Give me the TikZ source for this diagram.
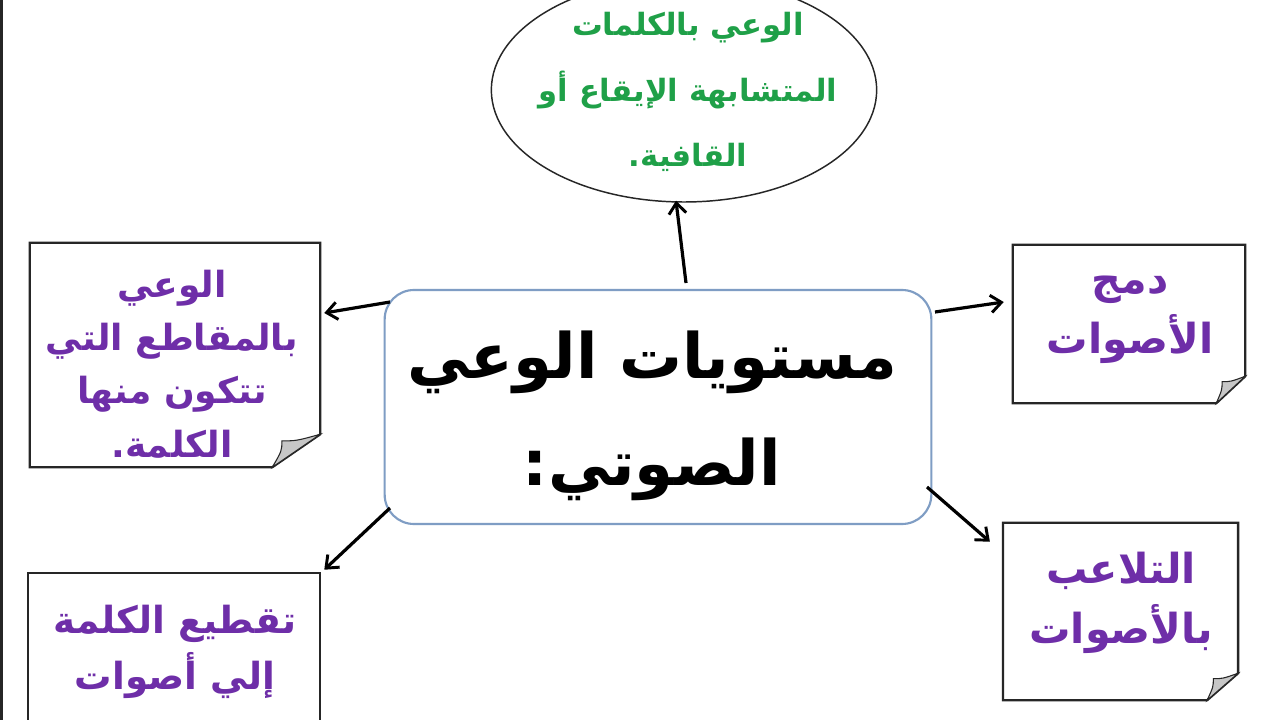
\documentclass[tikz,border=0pt]{standalone}
\usepackage{fontspec}
\usetikzlibrary{shapes.geometric,calc,arrows.meta}
\newfontfamily\arabicfont[Script=Arabic]{DejaVu Sans}
\TeXXeTstate=1
\definecolor{notepurple}{HTML}{6E2EA8}
\definecolor{ovalgreen}{HTML}{1FA048}
\definecolor{boxblue}{HTML}{7F9DC4}
\tikzset{
  notetext/.style={text=notepurple, font=\arabicfont\bfseries\fontsize{27}{40}\selectfont, align=center},
  notetextwide/.style={text=notepurple, font=\arabicfont\bfseries\fontsize{28}{42}\selectfont, align=center},
  notetextbig/.style={text=notepurple, font=\arabicfont\bfseries\fontsize{31}{45}\selectfont, align=center},
  notebox/.style={inner sep=0pt},
  noteline/.style={draw=black!85, line width=1.7pt, fill=white},
  flap/.style={draw=black!85, line width=0.8pt, fill=black!22},
  arrowline/.style={draw=black, line width=2.4pt, -{Straight Barb[length=8pt,width=13pt,line width=2.2pt]}},
  centralbox/.style={draw=boxblue, line width=1.6pt, rounded corners=22pt, fill=white},
  oval/.style={ellipse, draw=black!85, line width=1.1pt, fill=white, inner sep=0pt},
  ovaltext/.style={text=ovalgreen, font=\arabicfont\bfseries\fontsize{23}{49}\selectfont, align=center},
  maintext/.style={text=black, font=\arabicfont\bfseries\fontsize{47}{80}\selectfont, align=center}
}
\newcommand\drawnote[3]{%
  \draw[noteline] (#1.north west) -- (#1.north east) -- ($(#1.south east)+(0,-#3)$)
     -- ($(#1.south east)+(-#2,0)$) -- (#1.south west) -- cycle;
  \draw[flap] ($(#1.south east)+(0,-#3)$) -- ($(#1.south east)+(-#2,0)$)
     .. controls ($(#1.south east)+(-0.8*#2,-0.5*#3)$) .. ($(#1.south east)+(-0.8*#2,-0.8*#3)$)
     .. controls ($(#1.south east)+(-0.5*#2,-0.8*#3)$) .. ($(#1.south east)+(0,-#3)$) -- cycle;
}
\begin{document}
\begin{tikzpicture}[x=0.75pt,y=-0.75pt]
\useasboundingbox (0,0) rectangle (1280,720);
\clip (0,0) rectangle (1280,720);
\fill[white] (0,0) rectangle (1280,720);
\fill[black!85] (0,0) rectangle (3,720);

% top oval
\node[oval, minimum width=289pt, minimum height=168pt] (oval) at (684,90) {};
\node[ovaltext] (ovaltxt) at (688,92)
  {\beginR الوعي بالكلمات\endR\\ \beginR المتشابهة الإيقاع أو\endR\\ \beginR القافية.\endR};

% central box
\node[centralbox, minimum width=410pt, minimum height=175.5pt] (c) at (658,407) {};
\node[maintext] (ctxt) at (652,416)
  {\beginR مستويات الوعي\endR\\ \beginR الصوتي:\endR};

% note boxes (geometry)
\node[notebox, minimum width=217.5pt, minimum height=168pt] (lt) at (175,355) {};
\node[notebox, minimum width=219pt, minimum height=126pt] (lb) at (174,657) {};
\node[notebox, minimum width=174pt, minimum height=118.5pt] (rt) at (1129,324) {};
\node[notebox, minimum width=176pt, minimum height=132.75pt] (rb) at (1120.5,611.5) {};

\drawnote{lt}{48}{33}
\draw[noteline] (lb.north west) rectangle (lb.south east);
\drawnote{rt}{29}{27}
\drawnote{rb}{31}{27}

% note texts
\node[notetext] (lttxt) at (172,364)
  {\beginR الوعي\endR\\ \beginR بالمقاطع التي\endR\\ \beginR تتكون منها\endR\\ \beginR الكلمة.\endR};
\node[notetextwide] (lbtxt) at (175,652)
  {\beginR تقطيع الكلمة\endR\\ \beginR إلي أصوات\endR};
\node[notetextbig] (rttxt) at (1130,320)
  {\beginR دمج\endR\\ \beginR الأصوات\endR};
\node[notetextbig] (rbtxt) at (1121,603)
  {\beginR التلاعب\endR\\ \beginR بالأصوات\endR};

% connectors
\coordinate (s1) at (686,283);
\coordinate (s2) at (390,302);
\coordinate (s3) at (390,508);
\coordinate (s4) at (935,312);
\coordinate (s5) at (927,487);
\coordinate (t2) at ($(lt.east)+(4,-42)$);
\draw[arrowline] (s1) -- ($(oval.south)+(-8,-2)$);
\draw[arrowline] (s2) -- (t2);
\draw[arrowline] (s3) -- ($(lb.north east)+(4,-3)$);
\draw[arrowline] (s4) -- ($(rt.west)+(-9,-22)$);
\draw[arrowline] (s5) -- ($(rb.north west)+(-13,19)$);
\end{tikzpicture}
\end{document}
